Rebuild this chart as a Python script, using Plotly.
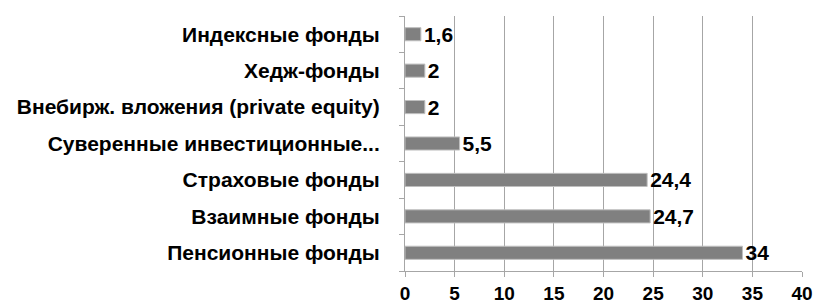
import plotly.graph_objects as go

categories = ["Индексные фонды", "Хедж-фонды", "Внебирж. вложения (private equity)",
              "Суверенные инвестиционные...", "Страховые фонды", "Взаимные фонды",
              "Пенсионные фонды"]
values = [1.6, 2, 2, 5.5, 24.4, 24.7, 34]
x_ticks = [0, 5, 10, 15, 20, 25, 30, 35, 40]

labels = [str(v).replace(".", ",") for v in values]

fig = go.Figure(go.Bar(
    y=categories, x=values, orientation="h",
    marker=dict(color="#808080", line=dict(color="#bfbfbf", width=1)),
    width=0.36,
    text=labels, textposition="outside", cliponaxis=False, constraintext="none",
    textfont=dict(family="Liberation Sans", size=21, color="#000000", weight="bold"),
))

fig.update_layout(
    width=813, height=303,
    margin=dict(l=405, r=11, t=16, b=32),
    paper_bgcolor="white", plot_bgcolor="white",
    showlegend=False,
    font=dict(family="Liberation Sans", color="#000000"),
    xaxis=dict(range=[0, 40], tickvals=x_ticks, showgrid=True, gridcolor="#a6a6a6",
               gridwidth=1, showline=True, linecolor="#a6a6a6", ticks="outside",
               tickcolor="#a6a6a6", ticklen=5, zeroline=False, automargin=False,
               tickfont=dict(size=19, family="Liberation Sans", color="#000000", weight="bold")),
    yaxis=dict(type="category", categoryorder="array", categoryarray=categories[::-1],
               showline=True, linecolor="#a6a6a6", ticks="outside", tickson="boundaries",
               tickcolor="#a6a6a6", ticklen=5, ticklabelstandoff=20, showgrid=False,
               automargin=False,
               tickfont=dict(size=21, family="Liberation Sans", color="#000000", weight="bold")),
)

fig.write_html("out.html", config={"displayModeBar": False},
               post_script="document.body.style.margin='0';document.body.style.overflow='hidden';")
